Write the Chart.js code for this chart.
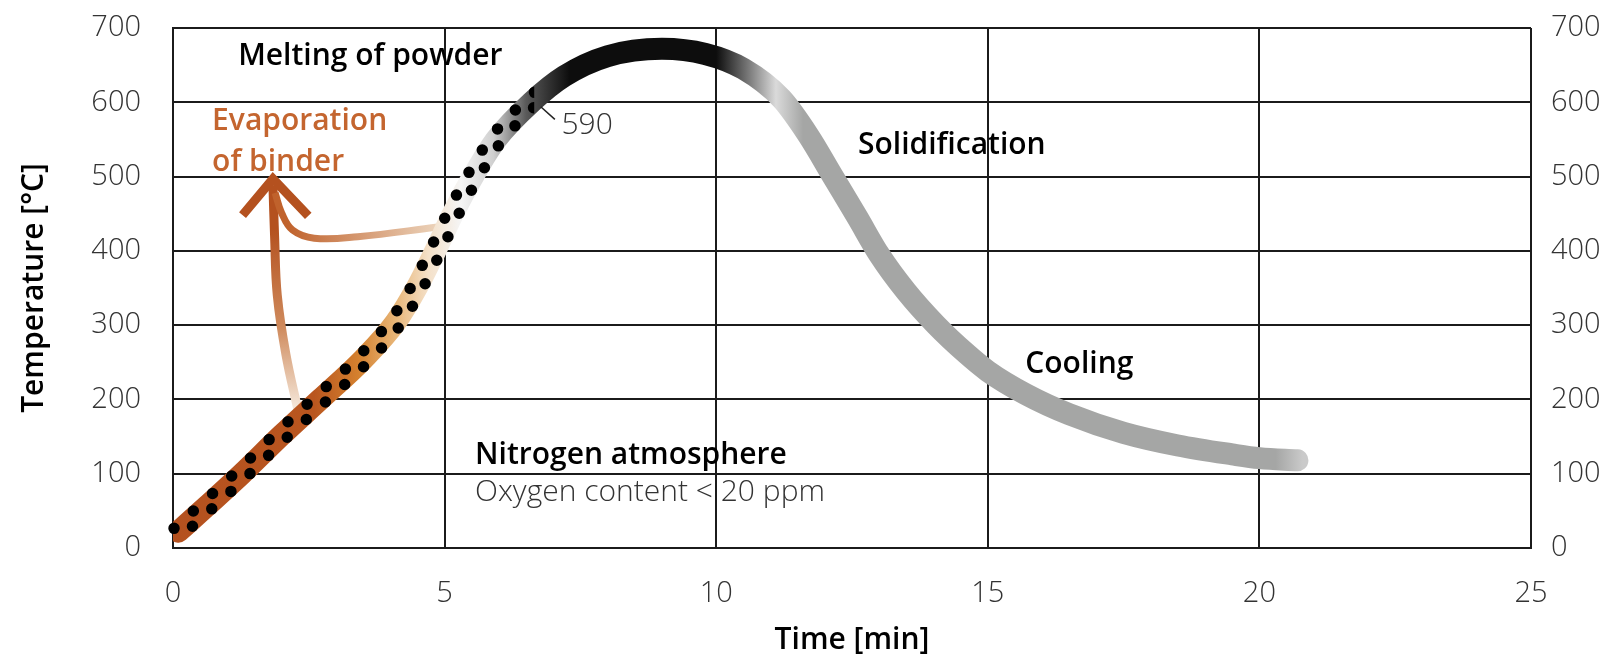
<!DOCTYPE html>
<html>
<head>
<meta charset="utf-8">
<script src="https://cdn.jsdelivr.net/npm/chart.js@4.4.1/dist/chart.umd.min.js"></script>
<style>
  html, body { margin: 0; padding: 0; background: #fff; }
  #wrap { position: relative; width: 1621px; height: 660px; }
</style>
</head>
<body>
<div id="wrap"><canvas id="chart" width="1621" height="660"></canvas></div>
<script>
// process curve: time [min] / temperature [°C]
const timeMin = [0.1, 0.6, 1.27, 2.0, 2.71, 3.5, 4.1, 4.5, 4.83, 5.16, 5.56, 5.95, 6.6, 7.2, 8.0, 9.0,
                 9.8, 10.5, 11.2, 11.7, 12.15, 12.6, 13.0, 13.5, 14.05, 14.6, 15.0, 15.7, 16.5,
                 17.5, 18.5, 19.5, 20.0, 20.7];
const tempC = [22, 55, 100, 152, 200, 254, 304, 352, 400, 451, 505, 550, 600, 635, 662, 672,
               665, 645, 605, 555, 500, 445, 395, 345, 300, 262, 238, 207, 180,
               155, 138, 126, 121, 118];

// dotted (powder) part ends at the 590 mark
const dotsUntil = 6.65;

// "evaporation of binder" arrow
const shaftX = [2.3, 2.08, 1.92, 1.87, 1.84];
const shaftY = [186, 260, 340, 420, 488];
const branchX = [4.87, 3.4, 2.6, 2.2, 2.0, 1.88];
const branchY = [432, 419, 417, 428, 451, 478];
const headX = [1.28, 1.84, 2.49];
const headY = [448, 497, 447];

const xTicks = [0, 5, 10, 15, 20, 25];
const yTicks = [0, 100, 200, 300, 400, 500, 600, 700];

// colour along the curve, by time
const curveStops = [
    [0, '#b4511f'], [2.6, '#b9561f'], [3.4, '#d4802e'], [4.1, '#e8b678'],
    [4.7, '#f4e0c8'], [5.3, '#f5f5f5'], [5.9, '#cfcfcf'], [6.5, '#5a5a5a'],
    [7.3, '#0d0d0d'], [10.0, '#0d0d0d'], [10.6, '#7a7a7a'], [11.1, '#dadada'],
    [11.6, '#a5a6a5'], [20.3, '#a5a6a5'], [20.8, '#cacaca']
];

// text notes: [text, time, temp, weight, colour]
const notes = [
    ['Melting of powder', 1.2, 662, 600, '#000'],
    ['Evaporation', 0.72, 574, 600, '#c4652f'],
    ['of binder', 0.72, 519, 600, '#c4652f'],
    ['590', 7.15, 569, 300, '#333'],
    ['Solidification', 12.61, 542, 600, '#000'],
    ['Cooling', 15.69, 247, 600, '#000'],
    ['Nitrogen atmosphere', 5.56, 125, 600, '#000'],
    ['Oxygen content < 20 ppm', 5.56, 75, 300, '#333']
];

const FONT = "'Open Sans', 'Noto Sans', sans-serif";

function toPoints(xs, ys) {
    return xs.map((x, i) => ({ x: x, y: ys[i] }));
}

function curveGradient(context) {
    const chart = context.chart;
    if (!chart.chartArea) return '#a5a6a5';
    const sx = chart.scales.x;
    const x0 = sx.getPixelForValue(0), x1 = sx.getPixelForValue(25);
    const g = chart.ctx.createLinearGradient(x0, 0, x1, 0);
    for (const [t, c] of curveStops) g.addColorStop(t / 25, c);
    return g;
}

function shaftGradient(context) {
    const chart = context.chart;
    if (!chart.chartArea) return '#b4511f';
    const sy = chart.scales.y;
    const g = chart.ctx.createLinearGradient(0, sy.getPixelForValue(190), 0, sy.getPixelForValue(430));
    g.addColorStop(0, '#f4e6d8');
    g.addColorStop(0.45, '#cf8a5c');
    g.addColorStop(1, '#b4511f');
    return g;
}

function branchGradient(context) {
    const chart = context.chart;
    if (!chart.chartArea) return '#c46a35';
    const sx = chart.scales.x;
    const g = chart.ctx.createLinearGradient(sx.getPixelForValue(4.9), 0, sx.getPixelForValue(2.1), 0);
    g.addColorStop(0, '#ecd4bc');
    g.addColorStop(1, '#c0622c');
    return g;
}

// black powder dots, two staggered rows along the curve
const dotsPlugin = {
    id: 'dots',
    afterDatasetsDraw(chart) {
        const line = chart.getDatasetMeta(0).dataset;
        const { ctx, chartArea, scales } = chart;
        const xEnd = scales.x.getPixelForValue(dotsUntil);
        ctx.save();
        ctx.beginPath();
        ctx.rect(chartArea.left - 20, chartArea.top, xEnd - chartArea.left + 20, chartArea.bottom - chartArea.top + 20);
        ctx.clip();
        ctx.strokeStyle = '#000';
        ctx.lineWidth = 11.5;
        ctx.lineCap = 'round';
        ctx.setLineDash([0, 26]);
        [[-4.4, -3.3, 0], [4.4, 3.3, 13]].forEach(([dx, dy, off]) => {
            ctx.save();
            ctx.translate(dx, dy);
            ctx.lineDashOffset = off;
            ctx.beginPath();
            line.path(ctx);
            ctx.stroke();
            ctx.restore();
        });
        ctx.restore();
    }
};

const notesPlugin = {
    id: 'notes',
    afterDraw(chart) {
        const { ctx, scales } = chart;
        const sx = scales.x, sy = scales.y;
        ctx.save();
        ctx.textAlign = 'left';
        ctx.textBaseline = 'middle';
        for (const [text, t, v, weight, color] of notes) {
            ctx.font = weight + ' 30px ' + FONT;
            ctx.fillStyle = color;
            ctx.fillText(text, sx.getPixelForValue(t), sy.getPixelForValue(v));
        }
        // leader for the 590 mark
        ctx.strokeStyle = '#222';
        ctx.lineWidth = 1.5;
        ctx.beginPath();
        ctx.moveTo(sx.getPixelForValue(6.77), sy.getPixelForValue(594));
        ctx.lineTo(sx.getPixelForValue(7.03), sy.getPixelForValue(577));
        ctx.stroke();
        ctx.restore();
    }
};

const tickFont = { family: FONT, size: 29, weight: 300 };
const titleFont = { family: FONT, size: 30, weight: 600 };

// fixed axis boxes so the plot area sits where the original one does
function fitY(width) {
    return (s) => { s.width = width; s.paddingTop = 0; s.paddingBottom = 0; };
}

new Chart(document.getElementById('chart'), {
    type: 'line',
    data: {
        datasets: [
            {
                data: toPoints(timeMin, tempC),
                borderColor: curveGradient,
                borderWidth: 22,
                borderCapStyle: 'round',
                cubicInterpolationMode: 'monotone',
                pointRadius: 0
            },
            {
                data: toPoints(branchX, branchY),
                borderColor: branchGradient,
                borderWidth: 7,
                tension: 0.4,
                pointRadius: 0
            },
            {
                data: toPoints(shaftX, shaftY),
                borderColor: shaftGradient,
                borderWidth: 9,
                tension: 0.4,
                pointRadius: 0
            },
            {
                data: toPoints(headX, headY),
                borderColor: '#b4511f',
                borderWidth: 9,
                borderJoinStyle: 'miter',
                tension: 0,
                pointRadius: 0
            }
        ]
    },
    options: {
        responsive: false,
        animation: false,
        events: [],
        layout: { padding: { top: 28, right: 0, bottom: 0, left: 0 } },
        plugins: { legend: { display: false }, tooltip: { enabled: false } },
        scales: {
            x: {
                type: 'linear',
                min: 0, max: 25,
                afterFit: (s) => { s.height = 112; },
                afterBuildTicks: (s) => { s.ticks = xTicks.map(v => ({ value: v })); },
                grid: { color: '#1b1b1b', lineWidth: 2, drawTicks: false },
                border: { display: true, color: '#1b1b1b', width: 2 },
                ticks: { font: tickFont, color: '#333', padding: 28, maxRotation: 0 },
                title: { display: true, text: 'Time [min]', color: '#000',
                         font: titleFont, padding: { top: 0, bottom: 2 } }
            },
            y: {
                position: 'left',
                min: 0, max: 700,
                afterFit: fitY(173),
                afterBuildTicks: (s) => { s.ticks = yTicks.map(v => ({ value: v })); },
                grid: { color: '#1b1b1b', lineWidth: 2, drawTicks: false },
                border: { display: true, color: '#1b1b1b', width: 2 },
                ticks: { font: tickFont, color: '#333', padding: 32 },
                title: { display: true, text: 'Temperature [°C]', color: '#000',
                         font: titleFont, padding: { top: 16, bottom: 0 } }
            },
            y2: {
                position: 'right',
                min: 0, max: 700,
                afterFit: fitY(90),
                afterBuildTicks: (s) => { s.ticks = yTicks.map(v => ({ value: v })); },
                grid: { display: false, drawTicks: false },
                border: { display: false },
                ticks: { font: tickFont, color: '#333', padding: 20 }
            }
        }
    },
    plugins: [dotsPlugin, notesPlugin]
});
</script>
</body>
</html>
